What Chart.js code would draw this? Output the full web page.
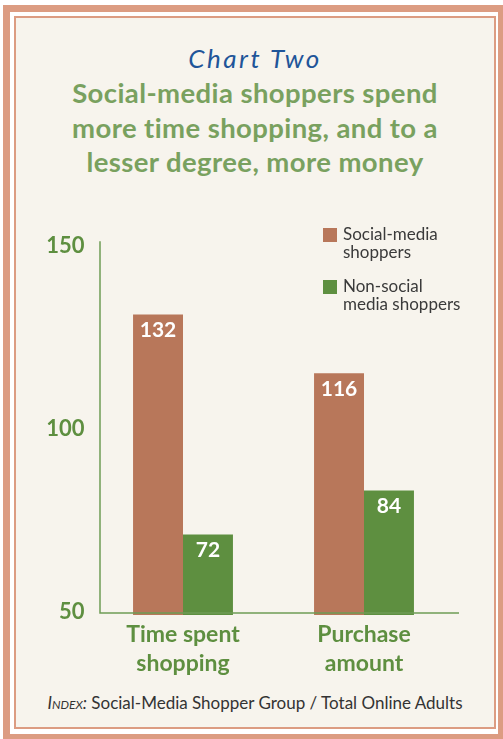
<!DOCTYPE html>
<html>
<head>
<meta charset="utf-8">
<script src="https://cdn.jsdelivr.net/npm/chart.js@4"></script>
<style>
    html, body { margin: 0; padding: 0; width: 503px; height: 739px; overflow: hidden; background: #ffffff; }
    body { position: relative; font-family: Lato, "Noto Sans", sans-serif; }
    #outer { position: absolute; left: 3px; top: 5px; width: 488px; height: 722px; border: 7px solid #dc9c82; background: #ffffff; }
    #inner { position: absolute; left: 14px; top: 16px; width: 478px; height: 709px; border: 2px solid #dc9c82; background: #f7f4ed; }
    .centro { position: absolute; left: 16px; width: 478px; text-align: center; }
    #sopra { top: 42px; font-style: italic; font-size: 26px; letter-spacing: 2.5px; color: #1f5599; }
    #titolo { top: 76px; font-weight: bold; font-size: 27.5px; line-height: 34.5px; letter-spacing: 0.4px; color: #79a15f; }
    #nota { top: 692px; font-size: 17px; color: #333333; }
    #nota i { font-variant: small-caps; }
    #legenda { position: absolute; left: 323px; top: 225px; font-size: 17px; line-height: 18px; color: #3a3a3a; }
    .voce { position: relative; padding-left: 20px; margin-bottom: 16px; }
    .quadro { position: absolute; left: 0; top: 3px; width: 14px; height: 14px; }
    #grafico { position: absolute; left: 0; top: 220px; }
</style>
</head>
<body>

<div id="outer"></div>
<div id="inner"></div>

<div class="centro" id="sopra">Chart Two</div>
<div class="centro" id="titolo">Social-media shoppers spend<br>more time shopping, and to a<br>lesser degree, more money</div>

<canvas id="grafico" width="503" height="460"></canvas>

<div id="legenda"></div>

<div class="centro" id="nota"><i>Index:</i> Social-Media Shopper Group / Total Online Adults</div>

<script>

// ================= DATI =================

const categorie = [["Time spent", "shopping"], ["Purchase", "amount"]];

const serieNomi = ["Social-media\nshoppers", "Non-social\nmedia shoppers"];

const socialMedia = [132, 116];

const nonSocial = [72, 84];

const tickY = [50, 100, 150];

const colori = ["#b8775a", "#5e8f40"];

const verde = "#5e8f40";

// ================= LEGENDA =================

const legenda = document.getElementById("legenda");

serieNomi.forEach((nome, i) => {

    const voce = document.createElement("div");

    voce.className = "voce";

    voce.innerHTML =
        `<span class="quadro" style="background:${colori[i]}"></span>` +
        nome.replace("\n", "<br>");

    legenda.appendChild(voce);

});

// ================= PLUGIN =================

const assi = {

    id: "assi",

    afterDraw(chart) {

        const { ctx, chartArea } = chart;

        const x0 = chartArea.left + 7.5;

        const y0 = chartArea.bottom - 2;

        ctx.save();

        ctx.strokeStyle = "#6f9c55";

        ctx.lineWidth = 1.5;

        ctx.beginPath();

        ctx.moveTo(x0, chartArea.top);

        ctx.lineTo(x0, y0);

        ctx.lineTo(chartArea.right + 4.5, y0);

        ctx.stroke();

        ctx.restore();

    }

};

const valori = {

    id: "valori",

    afterDatasetsDraw(chart) {

        const { ctx } = chart;

        ctx.save();

        ctx.fillStyle = "#ffffff";

        ctx.font = "bold 21px Lato, 'Noto Sans', sans-serif";

        ctx.textAlign = "center";

        ctx.textBaseline = "middle";

        chart.data.datasets.forEach((ds, i) => {

            chart.getDatasetMeta(i).data.forEach((bar, j) => {

                ctx.fillText(ds.data[j], bar.x, bar.y + 16);

            });

        });

        ctx.restore();

    }

};

// ================= GRAFICO =================

new Chart(document.getElementById("grafico").getContext("2d"), {

    type: "bar",

    data: {

        labels: categorie,

        datasets: [

            {
                label: serieNomi[0],
                data: socialMedia,
                backgroundColor: colori[0]
            },

            {
                label: serieNomi[1],
                data: nonSocial,
                backgroundColor: colori[1]
            }

        ]

    },

    options: {

        responsive: false,

        animation: false,

        layout: {

            padding: { left: 0, right: 48.5, top: 21, bottom: 0 }

        },

        categoryPercentage: 0.552,

        barPercentage: 1,

        plugins: {

            legend: { display: false },

            tooltip: { enabled: false }

        },

        scales: {

            x: {

                grid: { display: false, drawTicks: false },

                border: { display: false },

                ticks: {

                    color: verde,

                    padding: 6,

                    font: { family: "Lato, 'Noto Sans', sans-serif", size: 23, weight: "bold", lineHeight: 1.22 }

                },

                afterFit(scale) { scale.height = 65; }

            },

            y: {

                min: 50,

                max: 152,

                afterBuildTicks(scale) {

                    scale.ticks = tickY.map(v => ({ value: v }));

                },

                grid: { display: false, drawTicks: false },

                border: { display: false },

                ticks: {

                    color: verde,

                    padding: 8,

                    labelOffset: -3,

                    font: { family: "Lato, 'Noto Sans', sans-serif", size: 22, weight: "bold" }

                },

                afterFit(scale) { scale.width = 92.5; }

            }

        }

    },

    plugins: [assi, valori]

});

</script>
</body>
</html>
